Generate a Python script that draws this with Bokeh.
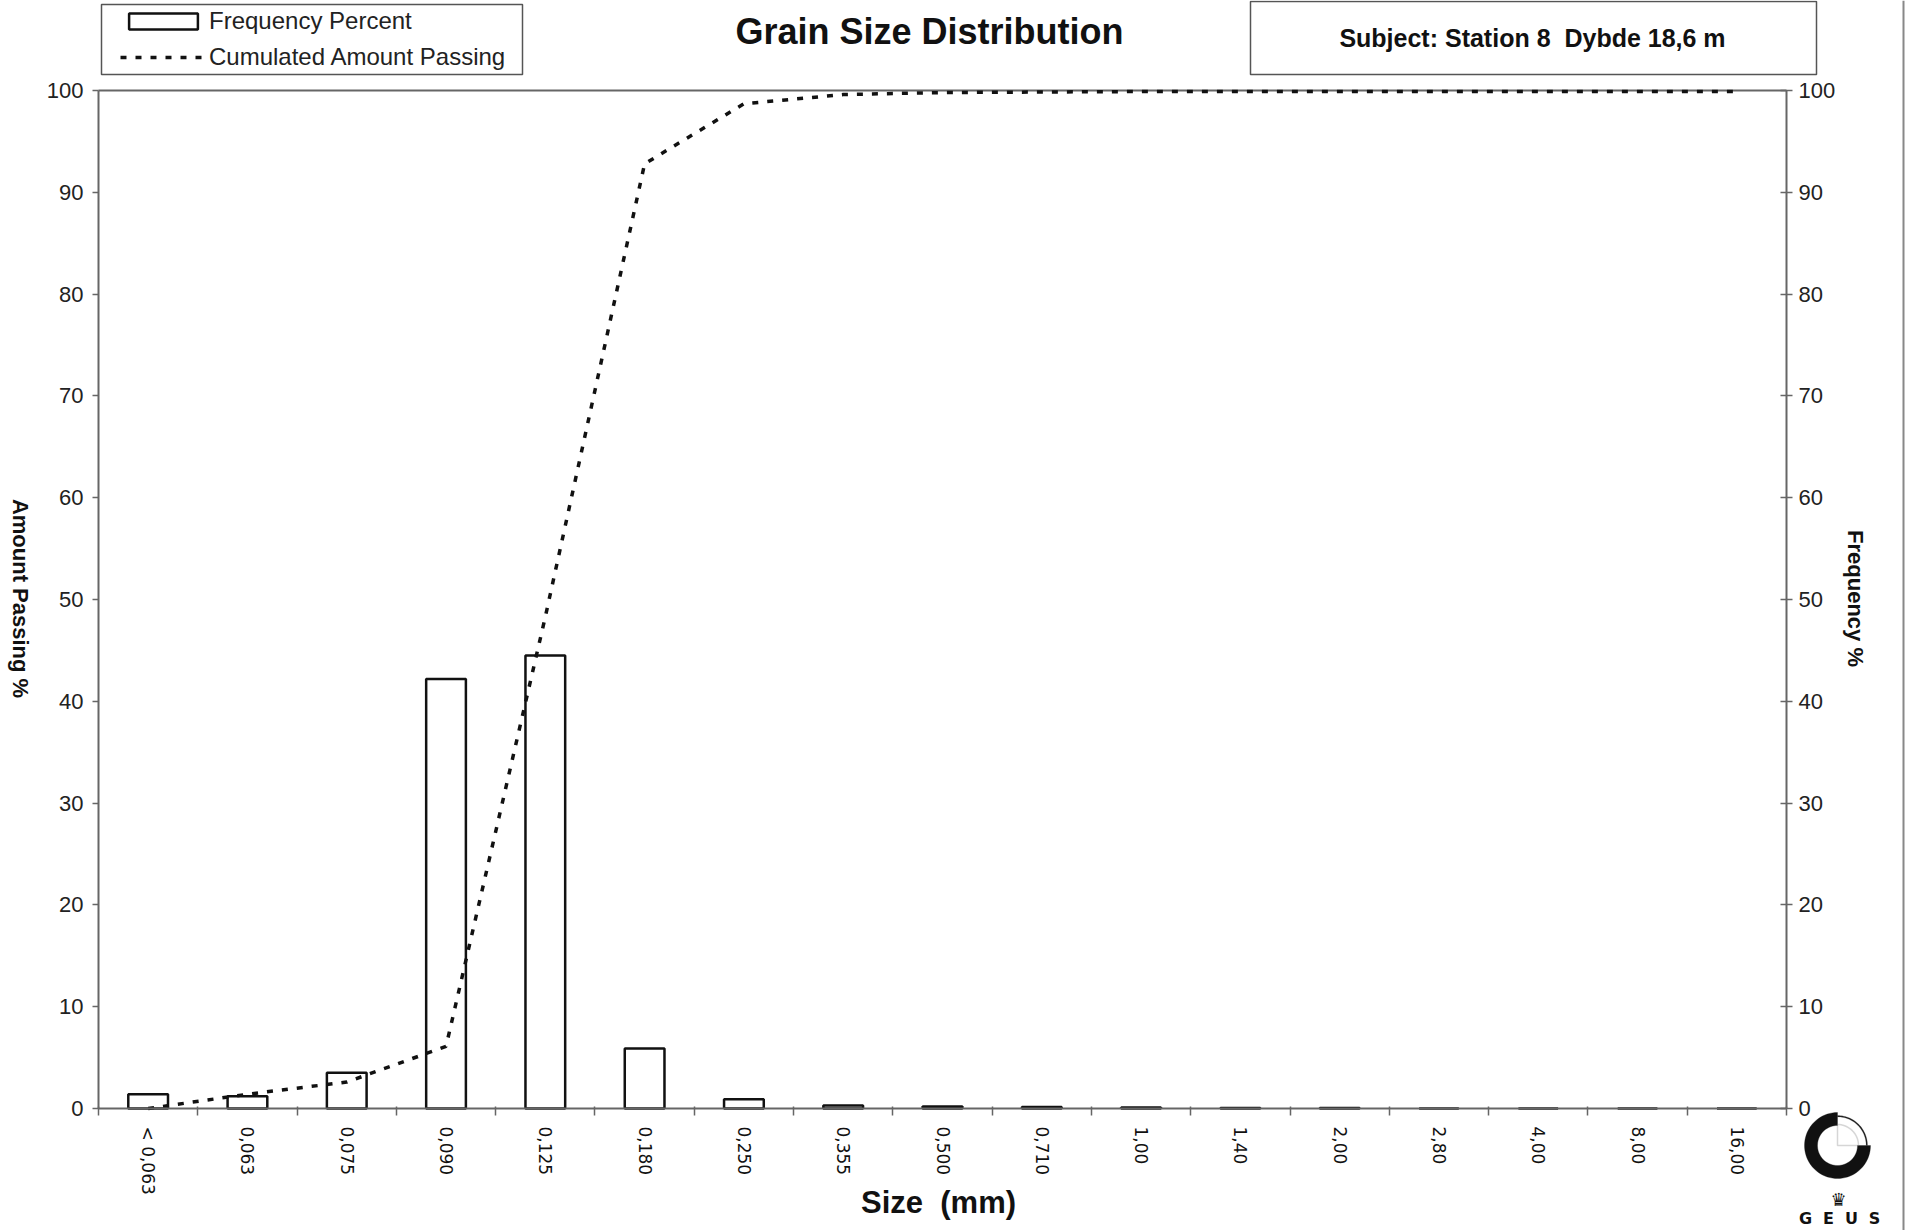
import math
from bokeh.plotting import figure
from bokeh.models import (Range1d, LinearAxis, FixedTicker, Legend, LegendItem, Label,
                          PolyAnnotation, CustomJSTickFormatter, ColumnDataSource)
from bokeh.embed import file_html
from bokeh.resources import INLINE

# Sieve classes (mm) and measured results
sizes = ["< 0,063", "0,063", "0,075", "0,090", "0,125", "0,180", "0,250", "0,355", "0,500",
         "0,710", "1,00", "1,40", "2,00", "2,80", "4,00", "8,00", "16,00"]
frequency_pct = [1.4, 1.2, 3.5, 42.2, 44.5, 5.9, 0.9, 0.3, 0.2, 0.15, 0.1, 0.05, 0.05,
                 0.0, 0.0, 0.0, 0.0]
cumulative_passing = [0.0, 1.4, 2.6, 6.1, 48.3, 92.8, 98.7, 99.6, 99.8, 99.85, 99.9, 99.9,
                      99.9, 99.9, 99.9, 99.9, 99.9]
y_ticks = [0, 10, 20, 30, 40, 50, 60, 70, 80, 90, 100]

FONT = "Liberation Sans"
W, H = 1914, 1230
AX0, AX1, AY0, AY1 = 98, 1786, 90, 1108   # chart box on the page (px)
NCAT = len(sizes)
YMAX = 100.0


def dx(px):
    return (px - AX0) / (AX1 - AX0) * NCAT


def dy(py):
    return (AY1 - py) / (AY1 - AY0) * YMAX


centers = [i + 0.5 for i in range(NCAT)]
src = ColumnDataSource(dict(x=centers, freq=frequency_pct, cum=cumulative_passing))

# the frame spans the whole page; axes sit at fixed data locations
p = figure(width=W, height=H, x_range=Range1d(dx(0), dx(W)), y_range=Range1d(dy(H), dy(0)),
           output_backend="svg", toolbar_location=None,
           min_border_left=0, min_border_right=0, min_border_top=0, min_border_bottom=0,
           x_axis_type=None, y_axis_type=None)
p.grid.visible = False
p.background_fill_color = "white"
p.border_fill_color = "white"
p.outline_line_color = None

GRAY = "#666666"

# top edge of the chart box
p.line(x=[0, NCAT], y=[YMAX, YMAX], line_color=GRAY, line_width=2)

bars = p.vbar(x="x", top="freq", width=0.40, bottom=0, source=src,
              fill_color="white", line_color="#111111", line_width=2.5)
line = p.line(x="x", y="cum", source=src, line_color="#111111", line_width=3.5,
              line_dash="6 9", line_cap="butt")

# x axis: labels at class centres, ticks at class boundaries
xa = LinearAxis(fixed_location=0, bounds=(0, NCAT))
xa.ticker = FixedTicker(ticks=centers, minor_ticks=list(range(NCAT + 1)))
xa.formatter = CustomJSTickFormatter(args=dict(labels=sizes),
                                     code="return labels[Math.floor(tick)] || ''")
xa.major_tick_in = 0
xa.major_tick_out = 0
xa.minor_tick_in = 2
xa.minor_tick_out = 7
xa.minor_tick_line_color = GRAY
xa.minor_tick_line_width = 1.5
xa.axis_line_color = GRAY
xa.axis_line_width = 2
xa.major_label_orientation = -math.pi / 2
xa.major_label_standoff = 11
xa.major_label_text_font = "DejaVu Sans"
xa.major_label_text_font_size = "17px"
xa.major_label_text_color = "#111111"
p.add_layout(xa, "below")


def y_axis(loc, tick_in, tick_out, standoff):
    ax = LinearAxis(fixed_location=loc, bounds=(0, YMAX), ticker=FixedTicker(ticks=y_ticks))
    ax.major_tick_in = tick_in
    ax.major_tick_out = tick_out
    ax.minor_tick_in = 0
    ax.minor_tick_out = 0
    ax.major_tick_line_color = GRAY
    ax.major_tick_line_width = 1.5
    ax.axis_line_color = GRAY
    ax.axis_line_width = 2
    ax.major_label_standoff = standoff
    ax.major_label_text_font = FONT
    ax.major_label_text_font_size = "22px"
    ax.major_label_text_color = "#222222"
    return ax


p.add_layout(y_axis(0, 0, 6, 9), "left")
p.add_layout(y_axis(NCAT, 6, 6, 6), "right")

# legend box at the top left
legend = Legend(items=[LegendItem(label="Frequency Percent", renderers=[bars]),
                       LegendItem(label="Cumulated Amount Passing", renderers=[line])],
                location=(112, H - 79), margin=0, padding=8, spacing=8,
                glyph_width=86, glyph_height=20, label_standoff=3,
                label_text_font=FONT, label_text_font_size="24px",
                label_text_color="#222222",
                border_line_alpha=0, background_fill_alpha=0)
p.add_layout(legend, "center")


def box(x0, y0, x1, y1, color="#555555", width=1.5, fill=None):
    xs = [dx(x0), dx(x1), dx(x1), dx(x0)]
    ys = [dy(y0), dy(y0), dy(y1), dy(y1)]
    p.add_layout(PolyAnnotation(xs=xs, ys=ys, fill_color=fill or "white",
                                fill_alpha=1 if fill else 0,
                                line_color=color, line_width=width,
                                line_alpha=1 if width > 0 else 0))


box(101, 4, 522, 74)
box(1250, 1, 1816, 74)


def add_text(txt, px, py, size, bold=False, angle=0.0, font=FONT, color="#111111"):
    p.add_layout(Label(x=dx(px), y=dy(py), text=txt, text_font=font,
                       text_font_size=f"{size}px", text_font_style="bold" if bold else "normal",
                       text_align="center", text_baseline="middle", angle=angle,
                       text_color=color))


add_text("Grain Size Distribution", 929, 31, 36, bold=True)
add_text("Subject: Station 8\u00a0 Dybde 18,6 m", 1532, 37, 25, bold=True)
add_text("Amount Passing %", 20, 598, 22, bold=True, angle=-math.pi / 2)
add_text("Frequency %", 1855, 598, 22, bold=True, angle=-math.pi / 2)
add_text("Size\u00a0 (mm)", 938, 1202, 31, bold=True)

# GEUS emblem
CX, CY = 1837.0, 1145.0


def ring(r_out, r_in, a0, a1, n=60):
    pts = []
    for k in range(n + 1):
        a = math.radians(a0 + (a1 - a0) * k / n)
        pts.append((CX + r_out * math.cos(a), CY - r_out * math.sin(a)))
    for k in range(n, -1, -1):
        a = math.radians(a0 + (a1 - a0) * k / n)
        pts.append((CX + r_in * math.cos(a), CY - r_in * math.sin(a)))
    return [dx(x) for x, _ in pts], [dy(y) for _, y in pts]


xs, ys = ring(33, 20, 90, 360)
p.add_layout(PolyAnnotation(xs=xs, ys=ys, fill_color="#111111", fill_alpha=1,
                            line_color="#111111", line_width=1))
xs, ys = ring(30, 28.6, 0, 90, n=30)
p.add_layout(PolyAnnotation(xs=xs, ys=ys, fill_color="#222222", fill_alpha=1,
                            line_color="#222222", line_width=0.5))
pie = [(CX, CY)] + [(CX + 21 * math.cos(math.radians(a)), CY - 21 * math.sin(math.radians(a)))
                    for a in range(0, 91, 5)]
p.add_layout(PolyAnnotation(xs=[dx(x) for x, _ in pie], ys=[dy(y) for _, y in pie],
                            fill_alpha=0, line_color="#777777", line_width=1.5))
add_text("\u265b", 1838, 1199, 18, font="DejaVu Sans")
for letter, lx in zip("GEUS", (1805, 1828, 1851, 1874)):
    add_text(letter, lx, 1218, 16, bold=True, font="DejaVu Sans")

# page edge
box(1902, 0, 1904, 1230, color="#888888", width=0, fill="#888888")

open("out.html", "w").write(file_html(p, INLINE))
